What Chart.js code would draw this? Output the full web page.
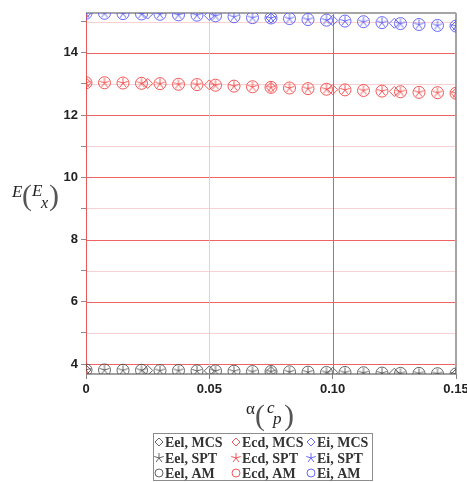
<!DOCTYPE html>
<html><head><meta charset="utf-8">
<script src="https://cdn.jsdelivr.net/npm/chart.js@4/dist/chart.umd.min.js"></script>
<style>html,body{margin:0;padding:0;background:#fff;}#wrap{width:467px;height:482px;}</style>
</head><body><div id="wrap"><canvas id="c" width="467" height="482"></canvas></div>
<script>
// x positions (alpha, c_p)
const xAM = [0, 0.0075, 0.015, 0.0225, 0.03, 0.0375, 0.045, 0.0525, 0.06, 0.0675, 0.075, 0.0825, 0.09, 0.0975, 0.105, 0.1125, 0.12, 0.1275, 0.135, 0.1425, 0.15];
const xSPT = [0, 0.0075, 0.015, 0.0225, 0.03, 0.0375, 0.045, 0.0525, 0.06, 0.0675, 0.075, 0.0825, 0.09, 0.0975, 0.105, 0.1125, 0.12, 0.1275, 0.135, 0.1425, 0.15];
const xMCS = [0, 0.025, 0.05, 0.075, 0.1, 0.125, 0.15];

// Eel
const eelAM  = [3.81, 3.81, 3.80, 3.80, 3.79, 3.79, 3.78, 3.78, 3.77, 3.76, 3.76, 3.75, 3.74, 3.73, 3.73, 3.72, 3.71, 3.70, 3.70, 3.69, 3.68];
const eelSPT = [3.81, 3.81, 3.80, 3.80, 3.79, 3.79, 3.78, 3.78, 3.77, 3.76, 3.76, 3.75, 3.74, 3.73, 3.73, 3.72, 3.71, 3.70, 3.70, 3.69, 3.68];
const eelMCS = [3.81, 3.795, 3.78, 3.76, 3.73, 3.705, 3.68];
// Ecd
const ecdAM  = [13.04, 13.04, 13.03, 13.02, 13.01, 12.99, 12.98, 12.96, 12.93, 12.91, 12.89, 12.87, 12.85, 12.83, 12.81, 12.79, 12.77, 12.75, 12.73, 12.72, 12.70];
const ecdSPT = [13.04, 13.04, 13.03, 13.02, 13.01, 12.99, 12.98, 12.96, 12.93, 12.91, 12.89, 12.87, 12.85, 12.83, 12.81, 12.79, 12.77, 12.75, 12.73, 12.72, 12.70];
const ecdMCS = [13.04, 13.015, 12.97, 12.89, 12.82, 12.76, 12.70];
// Ei
const eiAM  = [15.27, 15.27, 15.26, 15.25, 15.24, 15.22, 15.21, 15.19, 15.16, 15.13, 15.12, 15.10, 15.07, 15.05, 15.02, 15.00, 14.97, 14.94, 14.91, 14.88, 14.86];
const eiSPT = [15.27, 15.27, 15.26, 15.25, 15.24, 15.22, 15.21, 15.19, 15.16, 15.13, 15.12, 15.10, 15.07, 15.05, 15.02, 15.00, 14.97, 14.94, 14.91, 14.88, 14.86];
const eiMCS = [15.27, 15.245, 15.20, 15.12, 15.04, 14.95, 14.86];

const xTicks = [0, 0.05, 0.10, 0.15];
const yTickLabels = [4, 6, 8, 10, 12, 14];
const legendLabels = ['Eel, MCS', 'Ecd, MCS', 'Ei, MCS', 'Eel, SPT', 'Ecd, SPT', 'Ei, SPT', 'Eel, AM', 'Ecd, AM', 'Ei, AM'];

const cBlack = 'rgba(75,75,75,0.85)';
const cRed = 'rgba(240,60,60,0.85)';
const cBlue = 'rgba(80,80,240,0.85)';

// five-armed asterisk marker (SPT)
function asterisk(color, r) {
  const s = 2 * r + 2, cv = document.createElement('canvas');
  cv.width = s; cv.height = s;
  const g = cv.getContext('2d');
  g.strokeStyle = color; g.lineWidth = 1;
  g.beginPath();
  for (let k = 0; k < 5; k++) {
    const a = -Math.PI / 2 + k * 2 * Math.PI / 5;
    g.moveTo(s / 2, s / 2);
    g.lineTo(s / 2 + r * Math.cos(a), s / 2 + r * Math.sin(a));
  }
  g.stroke();
  return cv;
}

function pts(xs, ys) { return xs.map((x, i) => ({x: x, y: ys[i]})); }
function ds(label, xs, ys, color, style, r) {
  return {label: label, data: pts(xs, ys), showLine: false, pointStyle: style,
    pointRadius: r, pointHoverRadius: r, borderColor: color, backgroundColor: 'rgba(0,0,0,0)',
    pointBorderWidth: 1, legendColor: color};
}
const datasets = [
  ds(legendLabels[0], xMCS, eelMCS, cBlack, 'rectRot', 5),
  ds(legendLabels[1], xMCS, ecdMCS, cRed, 'rectRot', 5),
  ds(legendLabels[2], xMCS, eiMCS, cBlue, 'rectRot', 5),
  ds(legendLabels[3], xSPT, eelSPT, cBlack, asterisk(cBlack, 5), 5),
  ds(legendLabels[4], xSPT, ecdSPT, cRed, asterisk(cRed, 5), 5),
  ds(legendLabels[5], xSPT, eiSPT, cBlue, asterisk(cBlue, 5), 5),
  ds(legendLabels[6], xAM, eelAM, cBlack, 'circle', 6),
  ds(legendLabels[7], xAM, ecdAM, cRed, 'circle', 6),
  ds(legendLabels[8], xAM, eiAM, cBlue, 'circle', 6)
];

function yGridColor(v) {
  return (Math.round(v) % 2 === 0) ? 'rgb(238,100,100)' : 'rgb(248,210,210)';
}
function xGridColor(v) {
  if (Math.abs(v - 0.05) < 1e-6) return 'rgb(240,205,205)';
  if (Math.abs(v - 0.15) < 1e-6) return null;
  return 'rgb(235,90,90)';
}

const decor = {
  id: 'decor',
  beforeDatasetsDraw(chart) {
    const {ctx, chartArea: a} = chart;
    const xs = chart.scales.x, ys = chart.scales.y;
    ctx.save();
    ctx.lineWidth = 1;
    ys.ticks.forEach(t => {
      const y = Math.round(ys.getPixelForValue(t.value)) + 0.5;
      ctx.strokeStyle = yGridColor(t.value);
      ctx.beginPath(); ctx.moveTo(a.left, y); ctx.lineTo(a.right, y); ctx.stroke();
    });
    xs.ticks.forEach(t => {
      const col = xGridColor(t.value);
      if (!col) return;
      const x = Math.round(xs.getPixelForValue(t.value)) + 0.5;
      ctx.strokeStyle = col;
      ctx.beginPath(); ctx.moveTo(x, a.top); ctx.lineTo(x, a.bottom); ctx.stroke();
    });
    ctx.strokeStyle = 'rgb(165,165,165)';
    ctx.lineWidth = 2;
    ctx.beginPath();
    ctx.moveTo(a.left, a.top); ctx.lineTo(a.right, a.top);
    ctx.moveTo(a.right, a.top); ctx.lineTo(a.right, a.bottom);
    ctx.stroke();
    ctx.strokeStyle = 'rgb(130,130,130)';
    ctx.lineWidth = 1.5;
    ctx.beginPath(); ctx.moveTo(a.left, a.bottom); ctx.lineTo(a.right, a.bottom); ctx.stroke();
    ctx.restore();
  },
  afterDraw(chart) {
    const ctx = chart.ctx;
    ctx.save();
    ctx.fillStyle = '#222';
    ctx.textBaseline = 'alphabetic';
    ctx.textAlign = 'left';
    // y title E(E_x)
    ctx.font = 'italic 17px "Liberation Serif"';
    ctx.fillText('E', 12, 197);
    ctx.fillStyle = '#555';
    ctx.font = '30px "Liberation Serif"';
    ctx.fillText('(', 22, 205);
    ctx.fillStyle = '#222';
    ctx.font = 'italic 17px "Liberation Serif"';
    ctx.fillText('E', 32, 196);
    ctx.font = 'italic 16px "Liberation Serif"';
    ctx.fillText('x', 41, 208);
    ctx.fillStyle = '#555';
    ctx.font = '30px "Liberation Serif"';
    ctx.fillText(')', 49, 205);
    // x title alpha(c_p)
    ctx.fillStyle = '#222';
    ctx.font = '17px "Liberation Serif"';
    ctx.fillText('\u03b1', 246, 414);
    ctx.fillStyle = '#555';
    ctx.font = '30px "Liberation Serif"';
    ctx.fillText('(', 255, 425);
    ctx.fillStyle = '#222';
    ctx.font = 'italic 17px "Liberation Serif"';
    ctx.fillText('c', 267, 413);
    ctx.fillText('p', 273, 424);
    ctx.fillStyle = '#555';
    ctx.font = '30px "Liberation Serif"';
    ctx.fillText(')', 284, 425);

    // legend
    const bx = 153.5, by = 433.5, bw = 219, bh = 47;
    ctx.strokeStyle = 'rgb(140,140,140)';
    ctx.lineWidth = 1;
    ctx.strokeRect(bx, by, bw, bh);
    const colX = [159, 236, 311];
    const rowY = [442, 458, 473];
    ctx.font = 'bold 14px "Liberation Serif"';
    ctx.textBaseline = 'middle';
    chart.data.datasets.forEach((d, i) => {
      const c = i % 3, r = Math.floor(i / 3);
      const x = colX[c], y = rowY[r];
      ctx.strokeStyle = d.legendColor;
      ctx.fillStyle = 'rgba(0,0,0,0)';
      ctx.lineWidth = 1;
      Chart.helpers.drawPoint(ctx, {pointStyle: d.pointStyle, radius: 4, rotation: 0, borderWidth: 1}, x, y);
      ctx.fillStyle = '#333';
      ctx.fillText(d.label, x + 6, y + 1);
    });
    ctx.restore();
  }
};

new Chart(document.getElementById('c'), {
  type: 'scatter',
  data: {datasets: datasets},
  options: {
    responsive: false, animation: false, devicePixelRatio: 1,
    layout: {padding: {top: 13, right: 11, left: 0, bottom: 0}},
    plugins: {legend: {display: false}, tooltip: {enabled: false}},
    scales: {
      x: {
        type: 'linear', min: 0, max: 0.15,
        afterFit: s => { s.height = 108; s.paddingLeft = 0; s.paddingRight = 0; },
        afterBuildTicks: s => { s.ticks = xTicks.map(v => ({value: v})); },
        ticks: {
          font: {family: '"Liberation Sans", Arial', size: 13, weight: 'bold'}, color: '#222', padding: 3,
          maxRotation: 0, autoSkip: false,
          callback: v => (v === 0 ? '0' : v.toFixed(2))
        },
        grid: {drawOnChartArea: false, tickLength: 5, tickColor: 'rgb(130,130,130)'},
        border: {display: false}
      },
      y: {
        type: 'linear', min: 3.68, max: 15.28,
        afterFit: s => { s.width = 86; s.paddingTop = 0; s.paddingBottom = 0; },
        ticks: {
          stepSize: 1, includeBounds: false, autoSkip: false,
          font: {family: '"Liberation Sans", Arial', size: 13, weight: 'bold'}, color: '#222', padding: 3,
          callback: v => (yTickLabels.indexOf(v) >= 0 ? String(v) : '')
        },
        grid: {drawOnChartArea: false, tickLength: 5, tickColor: 'rgb(140,140,140)'},
        border: {color: 'rgb(235,90,90)', width: 1}
      }
    }
  },
  plugins: [decor]
});
</script>
</body></html>
